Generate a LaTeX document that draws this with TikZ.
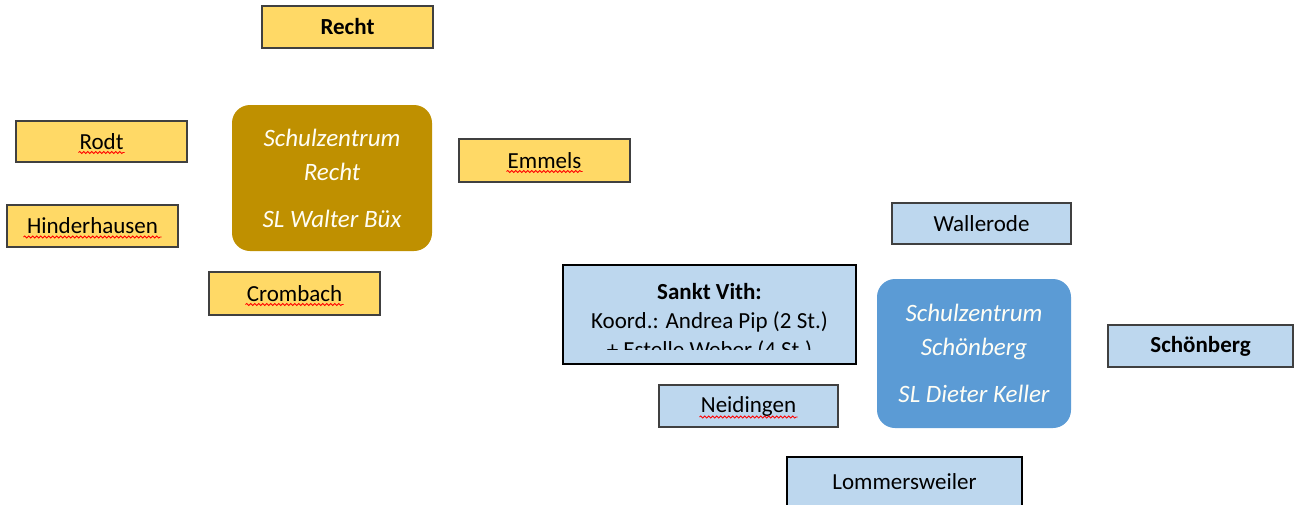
\documentclass[tikz,border=0pt]{standalone}
\usepackage{fontspec}
\setmainfont{Carlito}
\usepackage{xcolor}
\usetikzlibrary{positioning, decorations.pathmorphing}

\definecolor{gelb}{HTML}{FFD966}
\definecolor{gold}{HTML}{BF9000}
\definecolor{hellblau}{HTML}{BDD7EE}
\definecolor{mittelblau}{HTML}{5B9BD5}

\begin{document}
\begin{tikzpicture}[
    x=1pt, y=-1pt,
    every node/.style={font=\fontsize{23}{28}\selectfont},
    village/.style={rectangle, inner sep=0pt, minimum height=42pt, text centered, draw=black!75, line width=1.4pt},
    recht_village/.style={village, fill=gelb, minimum width=171pt},
    vith_village/.style={village, fill=hellblau, minimum width=179pt},
    vith_main/.style={village, fill=hellblau, draw=black, line width=2.2pt},
    center/.style={rectangle, rounded corners=18pt, inner sep=0pt, text centered, align=center, text=white!96!yellow, font=\fontsize{25}{34}\selectfont\itshape},
    spellmark/.style={draw=red, line width=0.8pt, decorate, decoration={snake, amplitude=1.1pt, segment length=4pt}}
]
\useasboundingbox (0,0) rectangle (1295,504);
\clip (0,0) rectangle (1295,504);

% Schulzentrum Recht
\node (recht) [recht_village, minimum height=42pt] at (347.5,27) {\textbf{Recht}};
\node (rodt) [recht_village, minimum height=41pt] at (101.5,141.5) {Rodt};
\node (hinderhausen) [recht_village] at (92.5,226) {Hinderhausen};
\node (emmels) [recht_village, minimum height=43pt] at (544.5,160.5) {Emmels};
\node (crombach) [recht_village, minimum height=43pt] at (294.5,293.5) {Crombach};
\node (sz_recht) [center, fill=gold, minimum width=200pt, minimum height=146pt] at (332,178) {Schulzentrum\\Recht\\[13pt]SL Walter Büx};

% Schulzentrum Schoenberg
\node (wallerode) [vith_village, minimum height=41pt] at (981.5,223.5) {Wallerode};
\node (vith) [vith_main, minimum width=293pt, minimum height=99pt] at (709.5,314.5) {};
\begin{scope}
    \clip (563,266) rectangle (856,349);
    \node (vith_text) [align=center, inner sep=0pt, font=\fontsize{23}{29}\selectfont] at (709.5,322) {\textbf{Sankt Vith:}\\Koord.: Andrea Pip (2 St.)\\+ Estelle Weber (4 St.)};
\end{scope}
\node (sz_schoen) [center, fill=mittelblau, minimum width=194pt, minimum height=149pt] at (974,353.5) {Schulzentrum\\Schönberg\\[13pt]SL Dieter Keller};
\node (schoenberg) [vith_village, minimum width=185pt] at (1200.5,346) {\textbf{Schönberg}};
\node (neidingen) [vith_village] at (748.5,406) {Neidingen};
\node (lommersweiler) [vith_main, minimum width=235pt, minimum height=50pt] at (904.5,482) {Lommersweiler};

% spell check marks
\draw [spellmark] ([xshift=-23pt,yshift=-11pt]rodt.center) -- ([xshift=23pt,yshift=-11pt]rodt.center);
\draw [spellmark] ([xshift=-69pt,yshift=-11pt]hinderhausen.center) -- ([xshift=69pt,yshift=-11pt]hinderhausen.center);
\draw [spellmark] ([xshift=-38pt,yshift=-11pt]emmels.center) -- ([xshift=38pt,yshift=-11pt]emmels.center);
\draw [spellmark] ([xshift=-49pt,yshift=-11pt]crombach.center) -- ([xshift=49pt,yshift=-11pt]crombach.center);
\draw [spellmark] ([xshift=-49pt,yshift=-11pt]neidingen.center) -- ([xshift=49pt,yshift=-11pt]neidingen.center);

\end{tikzpicture}
\end{document}
